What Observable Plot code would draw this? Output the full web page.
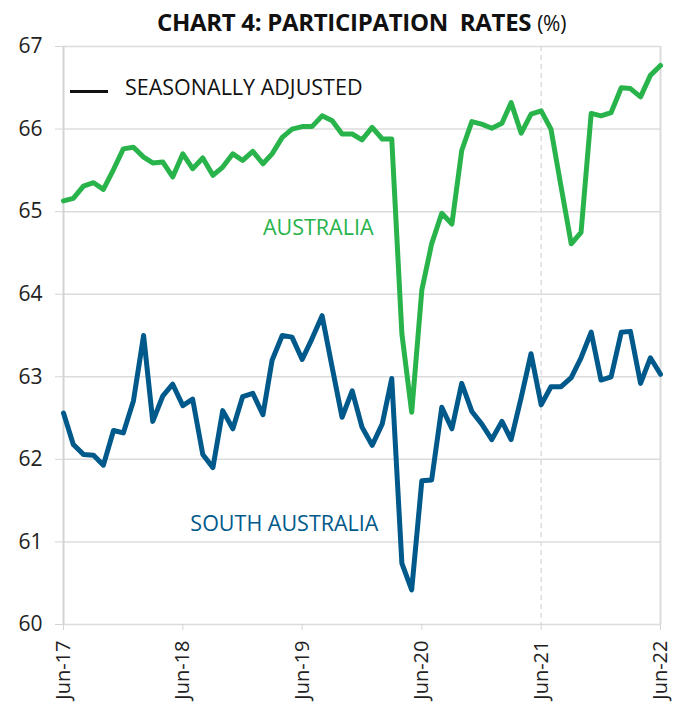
<!DOCTYPE html>
<html>
<head>
<meta charset="utf-8">
<script src="https://cdn.jsdelivr.net/npm/d3@7"></script>
<script src="https://cdn.jsdelivr.net/npm/@observablehq/plot@0.6"></script>
<style>
  body { margin: 0; background: #fff; font-family: "Open Sans", sans-serif; }
  #wrap { position: relative; width: 683px; height: 702px; }
  #title { height: 30px; box-sizing: border-box; padding: 0 23px 0 63px; text-align: center; font-size: 24px; line-height: 30px; color: #111; white-space: pre; letter-spacing: -0.3px; position: relative; top: 7px; }
  #title b { font-weight: 700; }
  #title span { font-size: 21px; }
  #legend { position: absolute; left: 70px; top: 72px; display: flex; align-items: center; font-size: 21.5px; color: #111; }
  #legend span.sw { display: inline-block; width: 38px; height: 3px; background: #111; margin-right: 17px; margin-top: 10px; }
  #chart { position: absolute; left: 0; top: 30px; }
</style>
</head>
<body>
<div id="wrap">
  <div id="title"><b>CHART 4: PARTICIPATION  RATES</b> <span>(%)</span></div>
  <div id="chart"></div>
  <div id="legend"><span class="sw"></span><span>SEASONALLY ADJUSTED</span></div>
</div>
<script>
// Monthly series, Jun-2017 to Jun-2022
const australia = [
  65.13, 65.16, 65.31, 65.35, 65.27, 65.51, 65.76, 65.78, 65.66, 65.59, 65.60, 65.42,
  65.70, 65.52, 65.65, 65.44, 65.54, 65.70, 65.62, 65.73, 65.58, 65.70, 65.90, 66.00,
  66.03, 66.03, 66.16, 66.10, 65.94, 65.94, 65.87, 66.02, 65.88, 65.88, 63.52, 62.57,
  64.05, 64.61, 64.98, 64.85, 65.74, 66.09, 66.06, 66.01, 66.07, 66.32, 65.95, 66.18,
  66.22, 66.00, 65.30, 64.61, 64.75, 66.19, 66.16, 66.20, 66.50, 66.49, 66.39, 66.65,
  66.77
];
const southAustralia = [
  62.56, 62.18, 62.06, 62.05, 61.93, 62.35, 62.32, 62.71, 63.50, 62.46, 62.77, 62.91,
  62.65, 62.73, 62.06, 61.90, 62.59, 62.37, 62.76, 62.80, 62.54, 63.20, 63.50, 63.48,
  63.21, 63.46, 63.74, 63.11, 62.51, 62.83, 62.39, 62.17, 62.43, 62.98, 60.74, 60.42,
  61.74, 61.75, 62.63, 62.37, 62.92, 62.58, 62.43, 62.24, 62.46, 62.24, 62.75, 63.28,
  62.66, 62.88, 62.88, 62.99, 63.23, 63.54, 62.96, 63.00, 63.54, 63.55, 62.92, 63.23,
  63.03
];
const yTicks = [60, 61, 62, 63, 64, 65, 66, 67];
const xTickLabels = ["Jun-17", "Jun-18", "Jun-19", "Jun-20", "Jun-21", "Jun-22"];
const seriesNames = ["AUSTRALIA", "SOUTH AUSTRALIA"];
const seriesColors = ["#28b44b", "#00598b"];
const labelDates = ["2019-02-01", "2018-06-24"];
const labelValues = [64.80, 61.21];
const markerLine = "Jun-21";

const monthDate = i => new Date(Date.UTC(2017, 5 + i, 1));
const parseTick = d3.utcParse("%b-%y");
const xTicks = xTickLabels.map(parseTick);
const rows = [
  ...australia.map((v, i) => ({date: monthDate(i), value: v, series: seriesNames[0]})),
  ...southAustralia.map((v, i) => ({date: monthDate(i), value: v, series: seriesNames[1]}))
];
const labels = seriesNames.map((n, i) => ({name: n, date: new Date(labelDates[i]), value: labelValues[i], color: seriesColors[i]}));

const chart = Plot.plot({
  width: 683,
  height: 672,
  marginTop: 16,
  marginBottom: 78,
  marginLeft: 63,
  marginRight: 23,
  style: {fontFamily: "Open Sans", fontSize: "20px", color: "#222", background: "transparent"},
  x: {type: "utc", domain: [xTicks[0], xTicks[xTicks.length - 1]]},
  y: {domain: [60, 67]},
  color: {domain: seriesNames, range: seriesColors},
  marks: [
    Plot.ruleY(yTicks, {stroke: "#dcdcdc", strokeWidth: 1.5}),
    Plot.ruleX([parseTick(markerLine)], {stroke: "#dedede", strokeWidth: 1.5, strokeDasharray: "5,4"}),
    Plot.ruleX([xTicks[0]], {stroke: "#d4d4d4", strokeWidth: 2}),
    Plot.ruleX([xTicks[xTicks.length - 1]], {stroke: "#dcdcdc", strokeWidth: 2}),
    Plot.axisY({ticks: yTicks, tickFormat: d3.format("d"), tickSize: 8, tickPadding: 13, stroke: "#d4d4d4", fill: "#222", label: null, fontSize: 21}),
    Plot.axisX({ticks: xTicks, tickFormat: d3.utcFormat("%b-%y"), tickRotate: -90, tickSize: 6, tickPadding: 10, stroke: "#d4d4d4", fill: "#222", label: null, fontSize: 20}),
    Plot.line(rows, {x: "date", y: "value", z: "series", stroke: "series", strokeWidth: 5, strokeLinejoin: "round", strokeLinecap: "round"}),
    Plot.text(labels, {x: "date", y: "value", text: "name", fill: "color", textAnchor: "start", fontSize: 21.5})
  ]
});
document.getElementById("chart").appendChild(chart);
</script>
</body>
</html>
